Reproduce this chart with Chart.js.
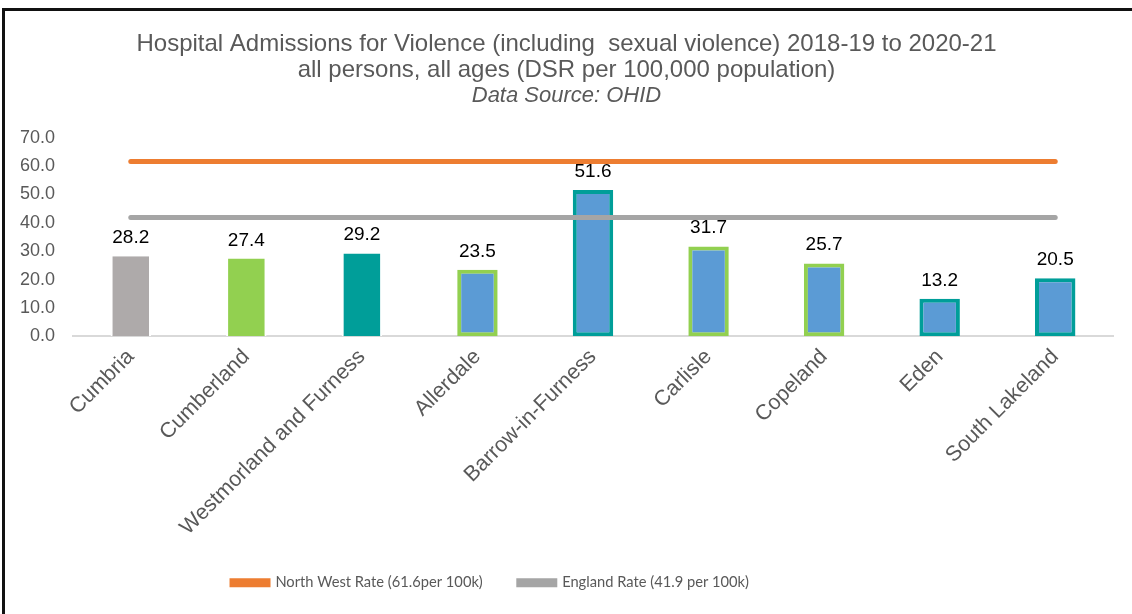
<!DOCTYPE html>
<html>
<head>
<meta charset="utf-8">
<script src="https://cdn.jsdelivr.net/npm/chart.js@4"></script>
<style>
  html, body { margin: 0; padding: 0; background: #fff; }
  #wrap { position: relative; width: 1132px; height: 614px; }
  #chart { position: absolute; left: 0; top: 0; }
  #frame {
    position: absolute; left: 2px; top: 8px; right: 0; bottom: 0;
    border-top: 3px solid #111; border-left: 3px solid #111;
    pointer-events: none;
  }
</style>
</head>
<body>
<div id="wrap">
  <canvas id="chart" width="1132" height="614"></canvas>
  <div id="frame"></div>
</div>
<script>
// Chart data
const areas = ['Cumbria', 'Cumberland', 'Westmorland and Furness', 'Allerdale', 'Barrow-in-Furness', 'Carlisle', 'Copeland', 'Eden', 'South Lakeland'];
const rates = [28.2, 27.4, 29.2, 23.5, 51.6, 31.7, 25.7, 13.2, 20.5];
const northWestRate = 61.6;
const englandRate = 41.9;

// Bar colours
const fillColours = ['#AEAAAA', '#92D050', '#009E99', '#5B9BD5', '#5B9BD5', '#5B9BD5', '#5B9BD5', '#5B9BD5', '#5B9BD5'];
const edgeColours = ['#ffffff', '#ffffff', '#ffffff', '#92D050', '#009E99', '#92D050', '#92D050', '#009E99', '#009E99'];

const textGrey = '#595959';
const arial = '"Liberation Sans", Arial, sans-serif';

// Draw value labels above bars
const valueLabels = {
    id: 'valueLabels',
    afterDatasetsDraw(chart) {
        const ctx = chart.ctx;
        const meta = chart.getDatasetMeta(2);
        ctx.save();
        ctx.font = '19px ' + arial;
        ctx.fillStyle = '#000';
        ctx.textAlign = 'center';
        ctx.textBaseline = 'alphabetic';
        meta.data.forEach((bar, i) => {
            ctx.fillText(rates[i].toFixed(1), bar.x, bar.y - 13);
        });
        ctx.restore();
    }
};

// Legend sits left of centre in the original
const legendShift = {
    id: 'legendShift',
    afterLayout(chart) {
        chart.legend.left -= 76;
        chart.legend.right -= 76;
    }
};

new Chart(document.getElementById('chart'), {
    type: 'bar',
    data: {
        labels: areas,
        datasets: [
            {
                type: 'line',
                label: 'North West Rate (61.6per 100k)',
                data: areas.map(() => northWestRate),
                borderColor: '#ED7D31',
                backgroundColor: '#ED7D31',
                borderWidth: 5,
                borderCapStyle: 'round',
                pointRadius: 0,
                order: 0
            },
            {
                type: 'line',
                label: 'England Rate (41.9 per 100k)',
                data: areas.map(() => englandRate),
                borderColor: '#A5A5A5',
                backgroundColor: '#A5A5A5',
                borderWidth: 5,
                borderCapStyle: 'round',
                pointRadius: 0,
                order: 0
            },
            {
                label: 'Rate',
                data: rates,
                backgroundColor: fillColours,
                borderColor: edgeColours,
                borderWidth: (c) => c.dataIndex < 3 ? { left: 2, right: 2, top: 0, bottom: 0 } : 4,
                borderSkipped: false,
                barPercentage: 0.35,
                categoryPercentage: 1,
                order: 1
            }
        ]
    },
    options: {
        responsive: false,
        animation: false,
        layout: { padding: { left: 20, right: 19, top: 31, bottom: 14 } },
        plugins: {
            title: {
                display: true,
                text: ['Hospital Admissions for Violence (including  sexual violence) 2018-19 to 2020-21', 'all persons, all ages (DSR per 100,000 population)'],
                color: textGrey,
                font: { family: arial, size: 24, weight: 'normal', lineHeight: 1.08 },
                padding: { top: 0, bottom: 0 }
            },
            subtitle: {
                display: true,
                text: 'Data Source: OHID',
                color: textGrey,
                font: { family: arial, size: 22, style: 'italic', lineHeight: 1.18 },
                padding: { top: 0, bottom: 29 }
            },
            legend: {
                position: 'bottom',
                labels: {
                    filter: (item) => item.datasetIndex < 2,
                    color: textGrey,
                    font: { family: 'Lato, "Open Sans", sans-serif', size: 14.7 },
                    boxWidth: 36,
                    boxHeight: 4,
                    padding: 36
                }
            },
            tooltip: { enabled: false }
        },
        scales: {
            x: {
                grid: { display: false },
                border: { color: '#D9D9D9', width: 2 },
                ticks: {
                    color: textGrey,
                    font: { family: arial, size: 21.5 },
                    minRotation: 45,
                    maxRotation: 45,
                    padding: 0
                },
                afterFit: (scale) => {
                    scale.paddingLeft = 0;
                    scale.paddingRight = 0;
                    scale.height = 203;
                }
            },
            y: {
                min: 0,
                max: 70,
                grid: { display: false },
                border: { display: false },
                ticks: {
                    stepSize: 10,
                    color: textGrey,
                    font: { family: arial, size: 18 },
                    padding: 10,
                    callback: (v) => v.toFixed(1)
                },
                afterFit: (scale) => {
                    scale.width = 53;
                }
            }
        }
    },
    plugins: [valueLabels, legendShift]
});
</script>
</body>
</html>
